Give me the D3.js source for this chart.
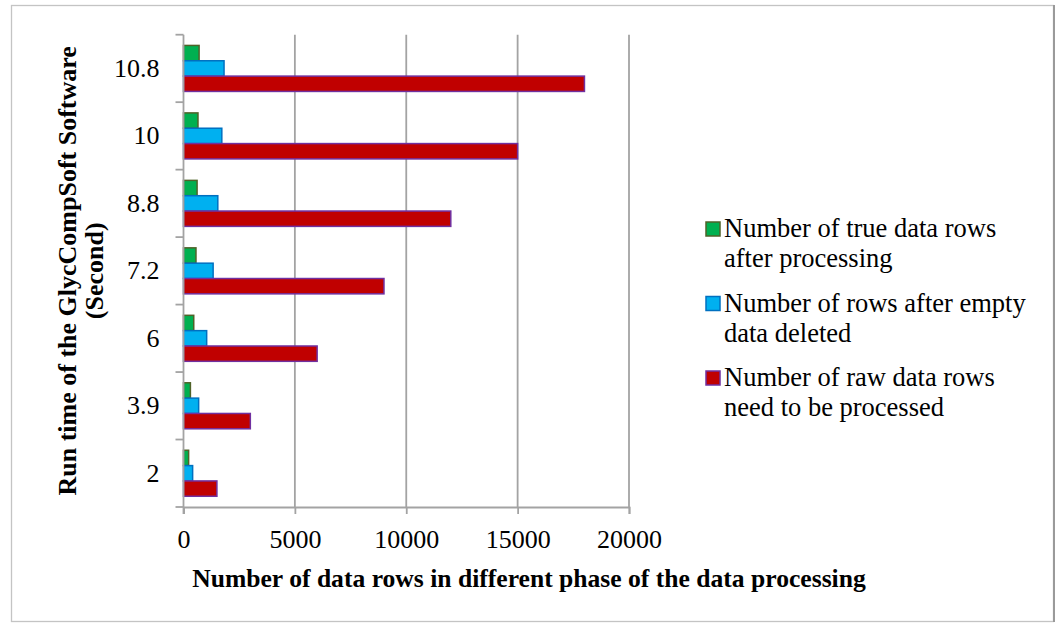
<!DOCTYPE html>
<html>
<head>
<meta charset="utf-8">
<script src="https://cdn.jsdelivr.net/npm/d3@7"></script>
<style>
  html, body { margin: 0; padding: 0; background: #fff; }
  svg { display: block; }
</style>
</head>
<body>
<svg id="chart" width="1057" height="624"></svg>
<script>
// Run time of GlycCompSoft (seconds), bottom to top
const categories = ["2", "3.9", "6", "7.2", "8.8", "10", "10.8"];
// Data rows at each processing phase
const trueRows = [230, 310, 460, 560, 610, 650, 700];
const nonEmptyRows = [410, 680, 1040, 1330, 1540, 1720, 1820];
const rawRows = [1500, 3000, 6000, 9000, 12000, 15000, 18000];
const xTicks = [0, 5000, 10000, 15000, 20000];

const seriesNames = [
  ["Number of true data rows", "after processing"],
  ["Number of rows after empty", "data deleted"],
  ["Number of raw data rows", "need to be processed"]
];
const seriesValues = [trueRows, nonEmptyRows, rawRows];
const fills = ["#00b050", "#00b0f0", "#c00000"];
const strokes = ["#4f6228", "#0070c0", "#7030a0"];

const FONT = '"Liberation Serif"';
const svg = d3.select("#chart");

// outer frame
svg.append("rect")
  .attr("x", 11.5).attr("y", 5.5).attr("width", 1042).attr("height", 616)
  .attr("fill", "#fff").attr("stroke", "#c4c4c4").attr("stroke-width", 1.3);
svg.append("line")
  .attr("x1", 1054).attr("x2", 1054).attr("y1", 5).attr("y2", 622)
  .attr("stroke", "#9a9a9a").attr("stroke-width", 2);

const plot = { left: 183.5, right: 629, top: 34.7, bottom: 507 };

const x = d3.scaleLinear().domain([0, 20000]).range([plot.left, plot.right]);
const y0 = d3.scaleBand()
  .domain(categories.slice().reverse())
  .range([plot.top, plot.bottom]);
const y1 = d3.scaleBand()
  .domain(d3.range(seriesValues.length))
  .range([0, y0.bandwidth()])
  .paddingInner(0).paddingOuter(0.7);

const gridColor = "#a3a3a3";

// vertical gridlines
svg.append("g").selectAll("line")
  .data(xTicks.filter(d => d > 0))
  .join("line")
  .attr("x1", d => x(d)).attr("x2", d => x(d))
  .attr("y1", plot.top).attr("y2", plot.bottom)
  .attr("stroke", gridColor).attr("stroke-width", 1.8);

// bars
const groups = svg.append("g").selectAll("g")
  .data(categories)
  .join("g")
  .attr("transform", c => `translate(0,${y0(c)})`);

groups.selectAll("rect")
  .data((c, i) => seriesValues.map((vals, s) => ({ s, v: vals[i] })))
  .join("rect")
  .attr("x", x(0))
  .attr("y", d => y1(d.s))
  .attr("width", d => x(d.v) - x(0))
  .attr("height", y1.bandwidth())
  .attr("fill", d => fills[d.s])
  .attr("stroke", d => strokes[d.s])
  .attr("stroke-width", 1.5);

// x axis
const xAxis = svg.append("g")
  .attr("transform", `translate(0,${plot.bottom})`)
  .call(d3.axisBottom(x).tickValues(xTicks).tickFormat(d3.format("d")).tickSize(7).tickPadding(16));
xAxis.attr("font-family", null);
xAxis.select(".domain").attr("stroke", gridColor).attr("stroke-width", 1.8);
xAxis.selectAll(".tick line").attr("stroke", gridColor).attr("stroke-width", 1.8);
xAxis.selectAll(".tick text")
  .style("font-family", FONT).style("font-size", "26px").attr("fill", "#000");

// y axis: labels centred in each band, ticks at band boundaries
const yAxis = svg.append("g")
  .attr("transform", `translate(${plot.left},0)`)
  .call(d3.axisLeft(y0).tickSize(0).tickPadding(24));
yAxis.attr("font-family", null);
yAxis.select(".domain").remove();
yAxis.selectAll(".tick text")
  .style("font-family", FONT).style("font-size", "26px").attr("fill", "#000");

const boundaries = categories.map(c => y0(c)).concat([plot.bottom]);
svg.append("g").selectAll("line")
  .data(boundaries)
  .join("line")
  .attr("x1", plot.left - 8).attr("x2", plot.left)
  .attr("y1", d => d).attr("y2", d => d)
  .attr("stroke", gridColor).attr("stroke-width", 1.8);
svg.append("line")
  .attr("x1", plot.left).attr("x2", plot.left)
  .attr("y1", plot.top).attr("y2", plot.bottom + 7)
  .attr("stroke", gridColor).attr("stroke-width", 1.8);

// axis titles
svg.append("text")
  .attr("x", 529).attr("y", 587)
  .attr("text-anchor", "middle")
  .style("font-family", FONT).style("font-size", "25.6px").style("font-weight", "bold")
  .text("Number of data rows in different phase of the data processing");

const yTitle = svg.append("text")
  .attr("transform", `translate(0,${(plot.top + plot.bottom) / 2}) rotate(-90)`)
  .attr("text-anchor", "middle")
  .style("font-family", FONT).style("font-size", "26px").style("font-weight", "bold");
yTitle.append("tspan").attr("x", 0).attr("y", 76).text("Run time of the GlycCompSoft Software");
yTitle.append("tspan").attr("x", 0).attr("y", 103).text("(Second)");

// legend
const legend = svg.append("g").attr("transform", "translate(706,0)");
const entryTop = [237, 311.5, 386];
seriesNames.forEach((lines, s) => {
  const g = legend.append("g").attr("transform", `translate(0,${entryTop[s]})`);
  g.append("rect")
    .attr("x", 0).attr("y", -15).attr("width", 14).attr("height", 14)
    .attr("fill", fills[s]).attr("stroke", strokes[s]).attr("stroke-width", 1.5);
  const t = g.append("text")
    .style("font-family", FONT).style("font-size", "26.5px");
  lines.forEach((ln, k) => {
    t.append("tspan").attr("x", 18).attr("y", k * 30).text(ln);
  });
});
</script>
</body>
</html>
